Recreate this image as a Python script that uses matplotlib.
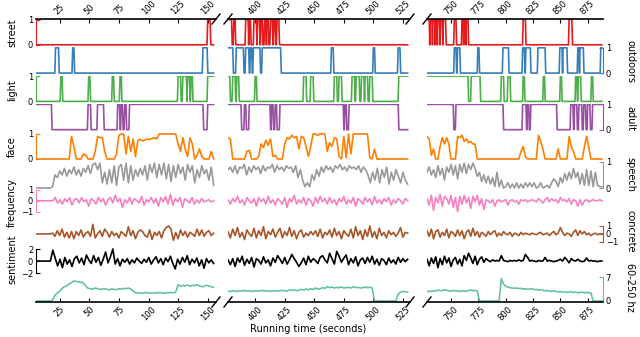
import numpy as np
import matplotlib.pyplot as plt

# three time windows of the broken x axis (seconds)
spans = [(5, 155), (377, 529), (728, 888)]
xlims = [(5, 157), (377, 531), (728, 889)]
xticks = [[25, 50, 75, 100, 125, 150],
          [400, 425, 450, 475, 500, 525],
          [750, 775, 800, 825, 850, 875]]

# binary detectors: intervals (start, end) where value is 1
street = [
    [(150, 152)],
    [(377, 380), (382, 383), (392, 394), (395, 396), (399, 401), (402, 403.5), (405, 406),
     (408, 409), (410, 411), (413, 414.5), (416, 417), (418.5, 420)],
    [(728, 730), (731, 732.5), (733.5, 735), (736, 737), (738, 739.5), (740.5, 742), (743, 745),
     (753, 754.5), (760, 761), (762, 763), (764, 765.5), (816, 818), (858, 860.5)],
]
outdoors = [
    [(21.5, 24), (36, 37), (146, 149.5)],
    [(377, 381), (384, 390), (392, 394.5), (396, 397), (398.5, 404), (406, 421.5),
     (464.5, 466), (500, 501), (521, 522.5)],
    [(753, 754.5), (756, 758), (774.5, 775.5), (797.5, 802.5), (815.5, 817), (818.5, 822.5),
     (829.5, 836), (849.5, 851.5), (852.5, 856), (866, 867), (868, 871), (887, 888)],
]
light = [
    [(26, 27), (49.5, 50.5), (69.5, 70.5), (76, 77), (125, 127), (129, 132), (133, 134.5),
     (136, 137), (150, 155)],
    [(377, 378.5), (381, 383), (384.5, 386), (400, 401), (441, 443), (447, 449), (467, 469),
     (471, 473), (482, 484), (485.5, 488), (490, 492), (493, 495), (497, 499), (521.5, 529)],
    [(728, 765.5), (768.5, 776.5), (796, 798), (802, 804), (816, 817), (834.5, 835.5),
     (850, 851), (864, 865), (866.5, 868.5), (878.5, 879.5)],
]
adult = [
    [(5, 18), (49, 51), (57, 62), (74, 75.5), (77, 78), (80, 81), (84, 146), (150, 155)],
    [(377, 388), (391, 392), (395, 412.5), (414, 415), (417, 418), (421, 474.5), (476, 477),
     (479.5, 521)],
    [(728, 752), (754.5, 797.5), (815.5, 818.5), (820, 821), (823, 846.5), (859.5, 861.5),
     (863, 865), (867, 869.5), (871.5, 873), (875, 877), (879.5, 888)],
]

# continuous series, sampled every ~2 s within each window
face = [
    [0] * 15 + [0.9, 0.5, 0, 0, 0, 0.2, 0.15, 0, 0, 0, 0.3, 0.9, 0.85, 0.85, 0.3, 0, 0, 0, 0, 0.2,
                0.95, 1.0, 1.0, 0.2, 0.9, 0.3, 0.8, 0.1, 0.75, 0.78, 0.72, 0.76, 0.8, 0.78, 0.82,
                0.85, 0.8, 1.0, 1.0, 1.0, 1.0, 1.0, 1.0, 1.0, 1.0, 0.6, 0.3, 0.85, 0.4, 0.1, 0.85,
                0.6, 0, 0.15, 0.4, 0.1, 0, 0, 0, 0.3, 0],
    [0.85, 0.8, 0, 0, 0, 0, 0, 0, 0.3, 0.35, 0, 0, 0, 0.1, 0.6, 0.45, 0.75, 0.55, 0.8, 0.1, 0.15,
     0, 0, 0, 0.6, 0.85, 0.8, 0.95, 0.85, 0.9, 0.4, 0.9, 0.85, 0.5, 0.1, 0.5, 1.0, 1.0, 0.95, 1.0,
     1.0, 1.0, 0.3, 0.65, 0.5, 0.85, 0.8, 0.1, 0, 0.9, 0.05, 1.0, 0.2, 1.0, 1.0, 1.0, 1.0, 1.0,
     1.0, 1.0, 0.05, 0, 0.4, 0] + [0] * 13,
    [0.9, 0.8, 0.15, 0.4, 0, 0, 0.5, 0.85, 0.6, 0.85, 0.6, 0, 0, 0, 0.9, 0.85, 0.95, 0.7, 0.8,
     0.65, 0.7, 0.6, 0.6, 0] + [0] * 19 + [0.3, 0.5, 0.1, 0, 0, 0, 0, 0, 0.95, 0.7, 0.4, 0, 0, 0,
                                      0, 0, 0, 0.4, 0, 0, 0, 0, 0.9, 0.5, 0.3, 0, 0, 0, 0, 0.5,
                                      0.9, 0.45, 0, 0, 0, 0, 0, 0],
]
speech = [
    [0] * 7 + [0.05, 0.5, 0.4, 0.65, 0.5, 0.75, 0.45, 0.7, 0.55, 0.8, 0.5, 0.7, 0.45, 0.75, 0.6,
               0.85, 0.55, 0.9, 0.95, 0.7, 0.95, 0.2, 0.6, 0.15, 0.7, 0.2, 0.85, 0.1, 0.8, 0.9,
               0.3, 0.95, 0.2, 0.85, 0.3, 0.7, 0.45, 0.75, 0.5, 0.85, 0.3, 0.9, 0.6, 0.95, 0.4,
               0.9, 0.5, 0.95, 0.35, 0.9, 0.25, 0.85, 0.4, 0.9, 0.55, 0.8, 0.3, 0.9, 0.6, 0.85,
               0.2, 0.7, 0.4, 0.85, 0.55, 0.7, 0.3, 0.8, 0.1],
    [0.7, 0.8, 0.6, 0.85, 0.55, 0.8, 0.75, 0.9, 0.5, 0.8, 0.6, 0.85, 0.7, 0.8, 0.55, 0.85, 0.65,
     0.8, 0.75, 0.9, 0.6, 0.85, 0.7, 0.8, 0.65, 0.85, 0.75, 0.8, 0.6, 0.85, 0.4, 0.7, 0.3, 0.05,
     0.2, 0.05, 0.5, 0.3, 0.7, 0.45, 0.8, 0.6, 0.85, 0.7, 0.8, 0.6, 0.85, 0.75, 0.9, 0.7, 0.8,
     0.65, 0.85, 0.75, 0.8, 0.7, 0.85, 0.6, 0.8, 0.7, 0.5, 0.2, 0.6, 0.3, 0.75, 0.2, 0.7, 0.4,
     0.8, 0.15, 0.6, 0.3, 0.7, 0.45, 0.2, 0.6, 0.3, 0.15],
    [0.6, 0.8, 0.5, 0.7, 0.4, 0.85, 0.5, 0.75, 0.3, 0.8, 0.6, 0.9, 0.5, 0.85, 0.35, 0.9, 0.6,
     0.95, 0.55, 0.9, 0.7, 0.95, 0.75, 0.45, 0.6, 0.25, 0.5, 0.2, 0.45, 0.15, 0.4, 0.05, 0.6,
     0.05, 0.3, 0.0, 0.05, 0.2, 0.0, 0.15, 0.0, 0.2, 0.0, 0.15, 0.0, 0.2, 0.05, 0.2, 0.05, 0.2,
     0.0, 0.05, 0.2, 0.0, 0.05, 0.1, 0.0, 0.2, 0.35, 0.25, 0.05, 0.4, 0.2, 0.55, 0.3, 0.6, 0.35,
     0.75, 0.4, 0.6, 0.15, 0.55, 0.1, 0.7, 0.1, 0.65, 0.05, 0.6, 0.1, 0.05, 0.05],
]
frequency = [
    [0] * 7 + [0.0, 0.3, -0.2, 0.1, -0.3, 0.2, -0.1, 0.3, -0.4, 0.1, 0.2, -0.2, 0.3, -0.1, 0.1,
               -0.5, 0.2, 0.0, -0.3, 0.3, -0.1, 0.2, -0.4, 0.1, 0.3, -0.2, 0.5, -0.1, 0.2, -0.6,
               0.1, -0.2, 0.3, -0.3, 0.2, 0.0, -0.2, 0.4, -0.4, 0.1, -0.1, 0.3, -0.2, 0.2, -0.5,
               0.3, -0.1, 0.4, -0.3, 0.6, -0.4, 0.2, -0.1, 0.3, -0.6, 0.2, 0.0, -0.2, 0.3, -0.3,
               0.1, -0.2, 0.2, -0.1, 0.0, 0.1, -0.1, 0.0],
    [0.1, -0.3, 0.2, -0.1, 0.4, -0.2, 0.1, -0.4, 0.3, 0.0, -0.2, 0.2, -0.5, 0.3, -0.1, 0.2, -0.3,
     0.4, -0.2, 0.1, -0.4, 0.2, 0.0, -0.3, 0.3, -0.6, 0.2, -0.1, 0.5, -0.3, 0.1, -0.2, 0.3, -0.4,
     0.2, 0.0, -0.5, 0.3, -0.2, 0.4, -0.1, 0.2, -0.3, 0.3, -0.2, 0.1, -0.4, 0.2, -0.1, 0.4, -0.3,
     0.1, -0.2, 0.3, -0.5, 0.2, 0.0, -0.3, 0.3, -0.1, 0.2, -0.4, 0.4, -0.2, 0.1, -0.3, 0.2, -0.1,
     0.3, -0.4, 0.1, -0.2, 0.2, 0.0, -0.3, 0.2, 0.0],
    [0.2, -0.4, 0.5, -0.9, 0.3, -0.2, 0.6, -0.5, 0.4, 0.2, -0.3, 0.5, -0.6, 0.3, -1.0, 0.4, -0.3,
     0.5, -0.2, 0.3, -0.7, 0.4, -0.1, 0.5, -0.4, 0.2, -0.8, 0.1, 0.0, -0.2, 0.1, -0.5, 0.0, 0.1,
     -0.1, 0.0, 0.1, -0.4, 0.0, 0.1, -0.1, 0.0, -0.3, 0.1, 0.0, 0.1, -0.1, 0.0, 0.1, 0.0, -0.1,
     0.2, 0.0, -0.2, 0.1, 0.3, -0.1, 0.2, 0.0, 0.1, -0.2, 0.3, 0.0, 0.1, -0.1, 0.2, -0.3, 0.1,
     0.0, -0.5, 0.1, -0.4, 0.0, 0.1, -0.1, 0.0, 0.1, 0.0, 0.0, 0.1, 0.0],
]
concrete = [
    [0] * 7 + [0.1, -0.3, 0.4, -0.2, 0.6, -0.4, 0.2, -0.5, 0.3, -0.6, 0.3, -0.2, 0.5, -0.4, 0.1,
               0.3, -0.3, 1.2, -0.5, 0.0, 0.4, -0.3, 0.6, 0.2, -0.4, 0.3, -0.2, 0.1, -0.5, 0.3,
               0.0, -0.3, 0.9, -0.2, 0.4, -0.6, 0.2, 0.5, 0.3, -0.2, -0.4, 0.5, -0.7, 0.2, -0.2,
               0.3, -0.5, 0.4, 0.8, 1.0, 0.6, -0.8, 0.2, -0.6, 0.5, -0.2, 0.3, -0.4, 0.2, 0.0,
               -0.3, 0.6, -0.2, 0.5, -0.3, 0.2, 0.4, -0.2, 0.1],
    [0.3, -0.5, 0.6, -0.2, 0.8, -0.4, 0.2, -0.7, 0.5, 0.0, -0.3, 0.7, -0.5, 0.4, -0.2, 0.9, -0.6,
     0.3, -0.1, 0.6, -0.4, 0.2, 0.7, -0.5, 0.3, -0.2, 0.8, -0.3, 0.4, -0.6, 0.2, 0.5, -0.4, 0.1,
     -0.2, 0.3, -0.1, 0.4, -0.3, 0.6, -0.5, 0.2, -0.1, 0.5, -0.4, 0.7, -0.2, 0.3, -0.6, 0.4, 0.0,
     -0.3, 0.6, -0.5, 0.9, -0.2, 0.4, -0.7, 0.5, -0.3, 1.0, -0.4, 0.3, -0.6, 0.7, -0.2, 0.2,
     -0.5, 0.4, -0.1, 0.2, -0.3, 0.1, 0.8, -0.4, 0.2, 0.1],
    [0.4, -0.3, 0.6, -0.6, 0.3, 0.5, -0.4, 0.2, -0.2, 0.6, -0.5, 0.3, 0.1, -0.3, 0.5, -0.2, 0.4,
     -0.6, 0.2, 0.5, -0.3, 0.7, -0.2, 0.3, -0.4, 0.2, 0.0, -0.3, 0.3, -0.1, 0.2, 0.4, -0.3, 0.1,
     -0.2, 0.3, 0.0, -0.1, 0.2, -0.3, 0.1, 0.0, -0.2, 0.2, -0.1, 0.1, 0.0, -0.1, 0.1, 0.0, -0.1,
     0.1, 0.2, -0.1, 0.0, 0.1, -0.2, 0.1, 0.3, -0.1, 0.1, 0.8, 0.2, -0.2, 0.1, 0.0, -0.3, 0.2,
     0.5, -0.2, 0.4, 0.0, 0.3, -0.1, 0.1, -0.2, 0.0, 0.1, -0.1, 0.0, 0.0],
]
sentiment = [
    [0] * 7 + [1.8, 0.5, -0.8, 0.3, -1.1, 0.6, -0.5, 0.2, -0.9, 0.4, 0.8, -0.3, 0.5, -0.6, 1.0,
               0.2, -0.4, 0.9, -0.2, 0.6, -0.7, 0.3, 1.5, -0.3, 0.7, 2.0, -0.5, 0.4, -0.8, 0.3,
               -0.2, 0.4, -0.5, 0.2, -0.3, 0.5, 0.0, -0.4, 0.3, -0.2, 0.6, -0.5, 0.2, 0.7, -0.3,
               0.4, -0.6, 0.5, -0.1, 0.8, -0.4, -1.3, 0.3, -0.5, 0.6, -0.2, 0.9, -0.6, 0.3, -0.3,
               0.5, -0.8, 0.2, -1.2, 0.4, -0.3, 0.2, -0.4],
    [0.2, -0.6, 0.4, -0.9, 0.5, -0.2, 0.8, -0.7, 0.3, -0.4, 0.6, -1.0, 0.4, 0.1, -0.5, 0.7, -0.3,
     0.2, -0.8, 0.5, -0.2, 0.9, 0.3, -0.4, 0.6, -0.5, 0.2, 1.1, 0.4, -0.2, -0.9, -0.3, 0.5, -0.6,
     0.8, -0.2, 0.4, 0.1, -0.4, 0.6, 0.9, 0.2, -0.3, 1.3, 0.4, -0.5, 1.6, 0.8, -0.2, 0.5, 1.0,
     -0.6, 0.4, -0.3, 0.7, -0.8, 0.2, 0.5, -0.4, 0.6, -0.2, 0.8, -0.5, 0.3, -0.7, 0.4, 0.1, -0.6,
     0.5, -0.3, 0.2, -0.5, 0.6, -0.2, 0.4, -0.1, 0.3],
    [0.3, -0.8, 0.5, -0.4, 0.7, -1.1, 0.4, -0.6, 0.8, -0.3, 0.5, -0.9, 0.2, 0.6, -0.5, 0.3, -0.8,
     0.9, 0.1, 1.3, 0.5, -0.4, 0.8, -0.6, 0.3, 0.7, -0.2, 0.4, 0.1, -0.1, 0.2, 0.0, 0.1, 0.0, 0.9,
     0.1, 0.0, -0.1, 0.1, 0.0, 0.1, 0.0, 0.2, 0.0, 0.1, 1.1, 0.6, 0.0, 0.1, 0.0, -0.1, 0.1, 0.0,
     0.0, 0.6, 0.0, 0.1, 0.0, -0.1, 0.0, 0.1, 0.3, 0.0, 0.6, 0.2, -0.3, 0.4, 0.1, 0.0, 0.3, 0.0,
     -0.1, 0.0, 0.5, 0.0, 0.1, 0.0, 0.0, -0.1, 0.0, 0.0],
]
hz = [
    [0] * 7 + [0.3, 1.6, 2.4, 2.8, 3.7, 4.2, 4.4, 5.0, 5.4, 5.9, 5.7, 5.6, 5.5, 5.3, 4.4, 3.7, 3.6,
               3.5, 3.8, 3.6, 3.4, 3.5, 3.6, 3.4, 3.3, 3.5, 3.4, 3.3, 3.6, 3.5, 3.7, 3.6, 3.8,
               3.5, 2.9, 2.4, 2.3, 2.4, 2.3, 2.5, 2.4, 2.3, 2.4, 2.3, 2.4, 2.5, 2.4, 2.3, 2.4,
               2.4, 2.5, 2.4, 2.6, 4.8, 4.3, 4.6, 4.4, 4.7, 4.3, 4.6, 4.5, 4.8, 4.4, 4.2, 4.3,
               4.6, 4.4, 4.2, 4.0],
    [2.9, 2.8, 3.0, 2.9, 2.8, 3.0, 2.9, 3.1, 2.9, 3.0, 2.8, 2.9, 3.0, 2.9, 3.1, 3.0, 2.9, 3.0,
     2.8, 2.9, 3.0, 2.9, 3.0, 3.1, 3.0, 2.9, 3.2, 3.1, 3.3, 3.0, 3.2, 3.4, 3.2, 3.5, 3.3, 3.6,
     3.4, 3.8, 3.5, 3.6, 3.9, 3.7, 4.2, 3.9, 4.1, 3.8, 4.0, 3.9, 4.1, 3.8, 3.9, 4.0, 3.8, 4.2,
     3.9, 4.0, 3.8, 3.9, 4.1, 3.9, 4.0, 3.8] + [0] * 10 + [2.0, 2.6, 2.8, 2.7, 2.6],
    [2.7, 2.9, 2.8, 3.0, 2.9, 3.2, 3.1, 3.0, 3.3, 3.1, 3.0, 2.9, 3.1, 3.0, 2.9, 2.8, 3.0, 2.9,
     2.8, 3.1, 3.2, 3.0, 3.1, 2.9, 0] + [0] * 9 + [6.6, 5.0, 4.3, 4.1, 3.9, 3.8, 3.7, 3.8, 3.6,
                                                 3.7, 3.5, 3.6, 3.4, 3.5, 3.6, 3.3, 3.4, 3.2,
                                                 3.3, 3.1, 3.0, 3.1, 2.9, 2.8, 3.0, 2.8, 2.7,
                                                 2.8, 2.6, 2.7, 2.5, 2.6, 2.7, 2.5, 2.6, 2.4,
                                                 2.5, 2.6, 2.4, 2.5, 2.4, 2.3, 0, 0, 0, 0, 0],
]

rows = [
    ('street', street, '#e41a1c', 'left', (-0.1, 1.02), [0, 1]),
    ('outdoors', outdoors, '#377eb8', 'right', (-0.1, 1.02), [0, 1]),
    ('light', light, '#4daf4a', 'left', (-0.1, 1.02), [0, 1]),
    ('adult', adult, '#984ea3', 'right', (-0.1, 1.02), [0, 1]),
    ('face', face, '#ff7f00', 'left', (-0.06, 1.07), [0, 1]),
    ('speech', speech, '#999999', 'right', (-0.03, 1.05), [0, 1]),
    ('frequency', frequency, '#f781bf', 'left', (-1.5, 1.1), [-1, 0, 1]),
    ('concrete', concrete, '#a65628', 'right', (-1.43, 2.1), [-1, 0, 1]),
    ('sentiment', sentiment, 'black', 'left', (-2.1, 2.6), [-2, 0, 2]),
    ('60-250 hz', hz, '#66c2a5', 'right', (-0.3, 8.0), [0, 7]),
]


def step_line(intervals, t0, t1, ramp=0.6):
    xs, ys = [t0], [0.0]
    for a, b in intervals:
        if a <= t0:
            ys[0] = 1.0
        else:
            xs += [a - ramp, a]
            ys += [0, 1]
        if b >= t1:
            xs.append(t1)
            ys.append(1)
            return xs, ys
        xs += [b, b + ramp]
        ys += [1, 0]
    xs.append(t1)
    ys.append(0)
    return xs, ys


W, H = 640, 337
fig = plt.figure(figsize=(W / 100, H / 100), dpi=100)
col_px = [(36, 180), (228, 182), (427, 176)]
top0, row_h = 19, 28.3

for r, (name, data, color, side, ylim, yt) in enumerate(rows):
    top = top0 + row_h * r
    for p in range(3):
        left, width = col_px[p]
        ax = fig.add_axes([left / W, 1 - (top + row_h) / H, width / W, row_h / H])
        ax.set_facecolor('none')
        t0, t1 = spans[p]
        if isinstance(data[p][0], tuple):
            xs, ys = step_line(data[p], t0, t1)
            ax.plot(xs, ys, color=color, lw=1.2)
        else:
            vals = np.array(data[p], dtype=float)
            ax.plot(np.linspace(t0, t1, len(vals)), vals, color=color, lw=1.2)
        ax.set_xlim(*xlims[p])
        ax.set_ylim(*ylim)
        for s in ax.spines.values():
            s.set_visible(False)

        # y axis on the outer columns only
        show_y = (side == 'left' and p == 0) or (side == 'right' and p == 2)
        if show_y:
            sp = ax.spines[side]
            sp.set_visible(True)
            sp.set_color(color)
            sp.set_bounds(yt[0], yt[-1])
            ax.set_yticks(yt)
            ax.set_yticklabels([str(v).replace('-', '\u2212') for v in yt])
            ax.yaxis.set_ticks_position(side)
            ax.tick_params(axis='y', direction='in', length=3, labelsize=6, pad=2,
                           colors=color, labelcolor='black')
        else:
            ax.set_yticks([])

        # x axis on top of first row and bottom of last row
        ax.set_xticks([])
        if r == 0 or r == len(rows) - 1:
            where = 'top' if r == 0 else 'bottom'
            sp = ax.spines[where]
            sp.set_visible(True)
            sp.set_color('black')
            sp.set_linewidth(1.2)
            ax.set_xticks(xticks[p])
            ax.xaxis.set_ticks_position(where)
            ax.tick_params(axis='x', direction='in', length=3, labelsize=6, pad=2,
                           labelrotation=45)
            y0 = 1 if r == 0 else 0
            dx, dy = 4 / width, 5 / row_h
            kw = dict(transform=ax.transAxes, color='black', lw=1.0, clip_on=False)
            if p < 2:
                ax.plot([1 - dx, 1 + dx], [y0 - dy, y0 + dy], **kw)
            if p > 0:
                ax.plot([-dx, dx], [y0 - dy, y0 + dy], **kw)

    yc = 1 - (top + row_h / 2) / H
    if side == 'left':
        fig.text(12 / W, yc, name, rotation=90, ha='center', va='center', fontsize=7)
    else:
        fig.text(630 / W, yc, name, rotation=270, ha='center', va='center', fontsize=7)

fig.text(308 / W, 1 - 329 / H, 'Running time (seconds)', ha='center', va='center', fontsize=7)

fig.savefig('out.png', dpi=100)
